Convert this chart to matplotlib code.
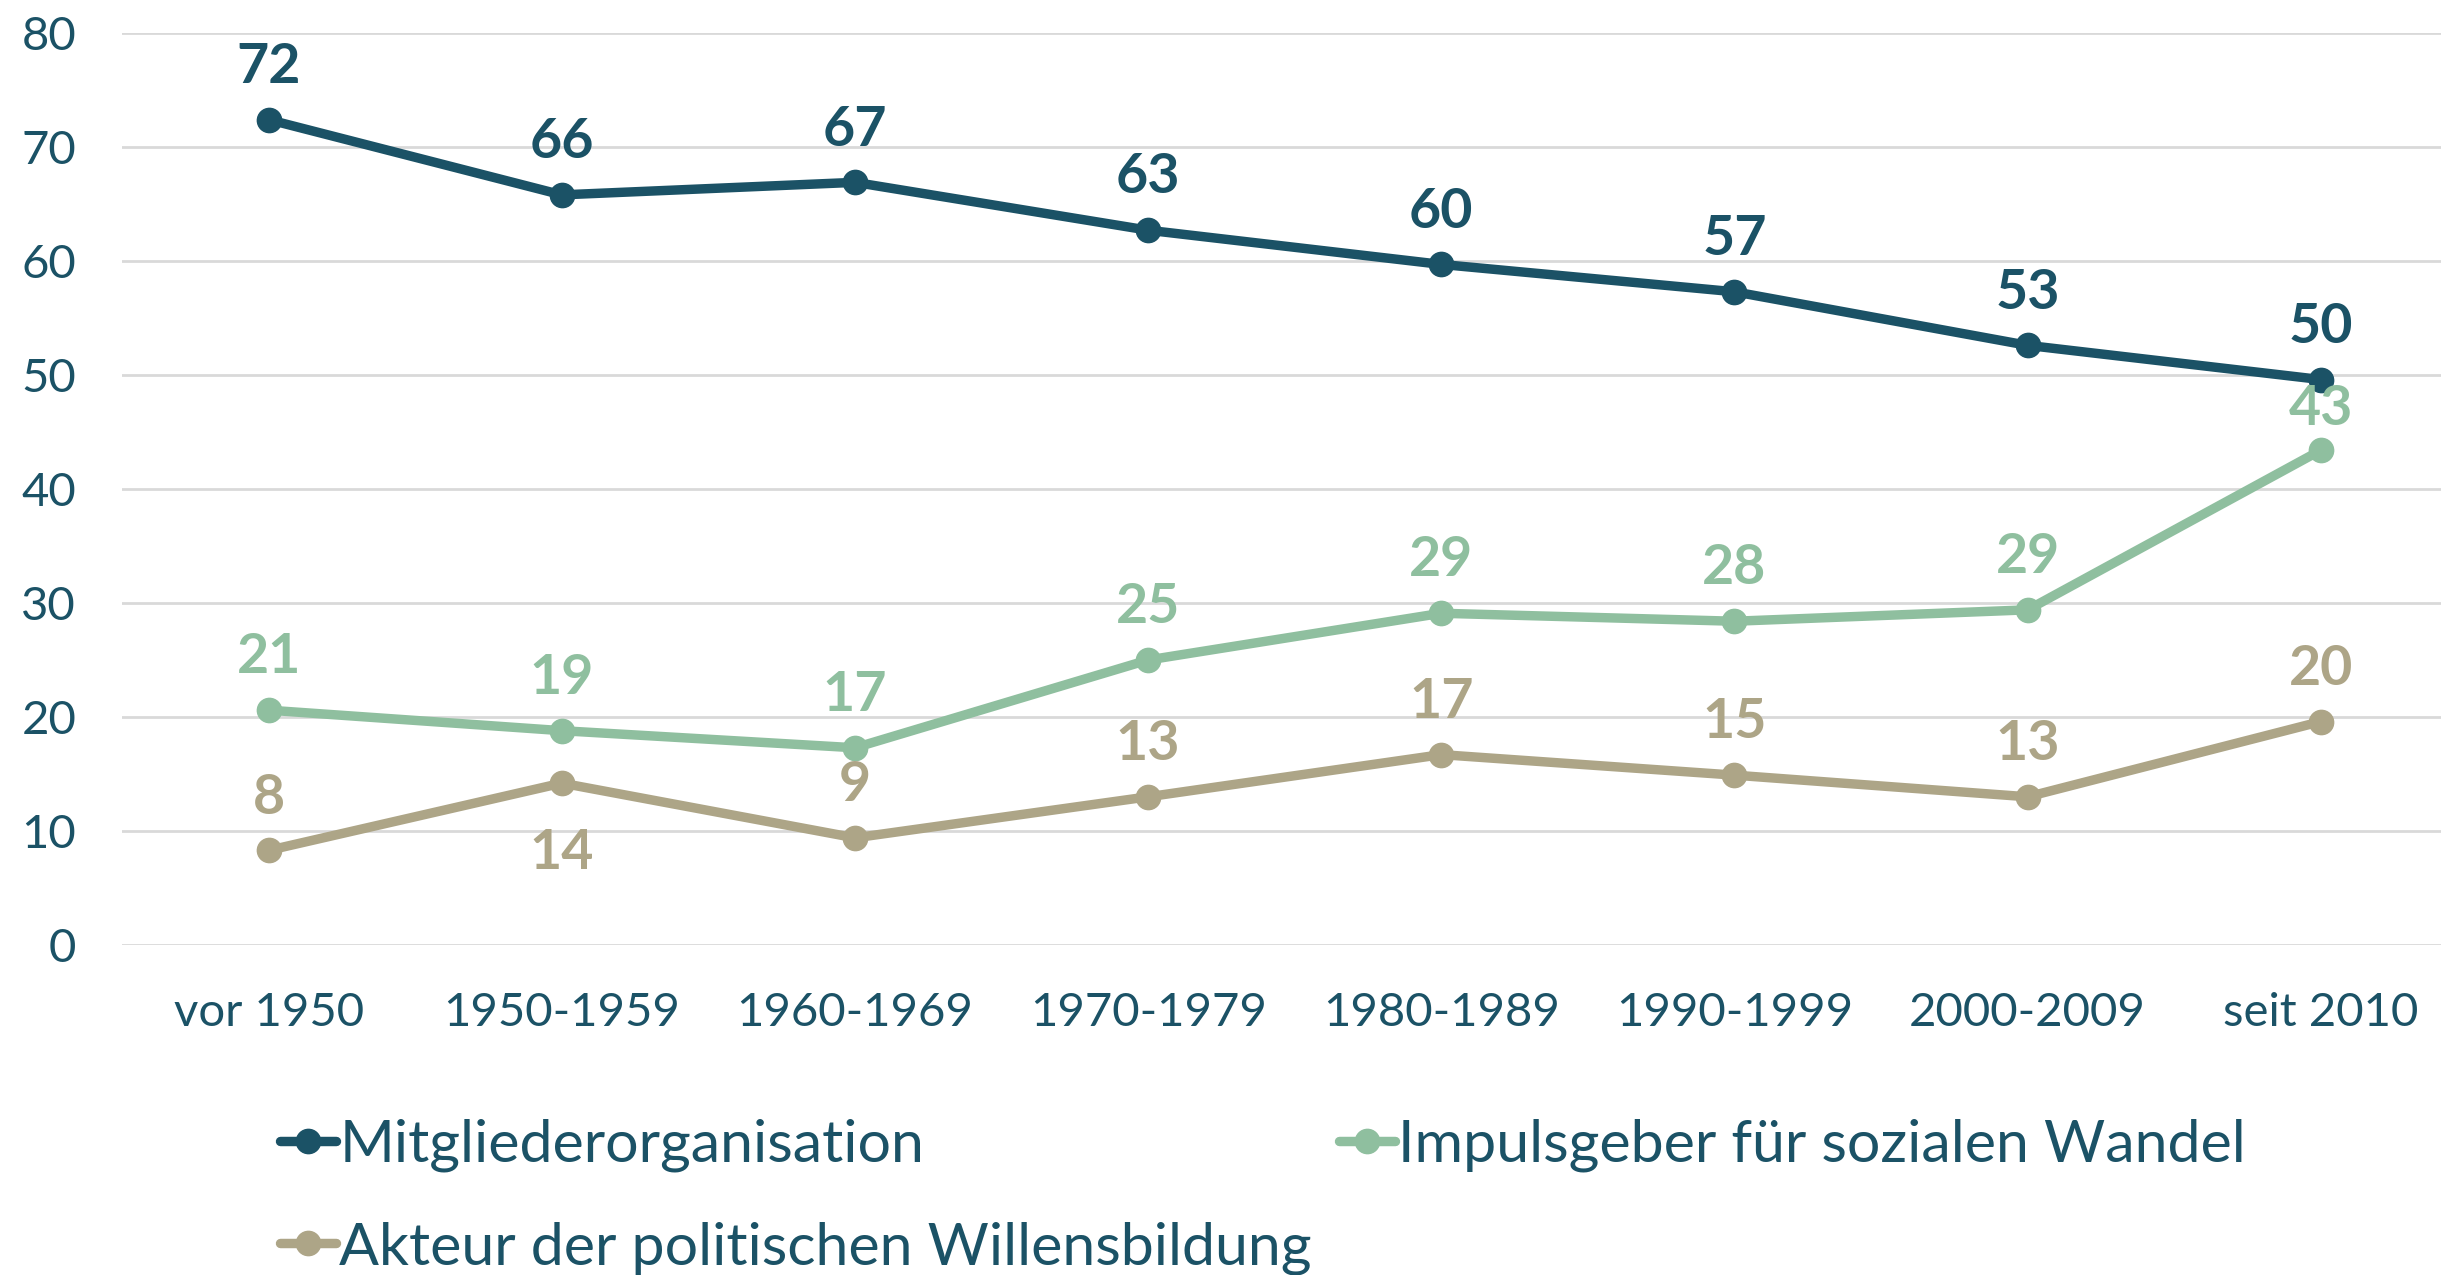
import matplotlib
matplotlib.use("Agg")
import matplotlib.pyplot as plt

categories = ["vor 1950", "1950-1959", "1960-1969", "1970-1979",
              "1980-1989", "1990-1999", "2000-2009", "seit 2010"]
mitglieder = [72.4, 65.8, 66.9, 62.7, 59.7, 57.3, 52.6, 49.6]
impuls = [20.6, 18.8, 17.3, 25.0, 29.1, 28.4, 29.4, 43.4]
akteur = [8.3, 14.2, 9.4, 13.0, 16.7, 14.9, 13.0, 19.6]
series_names = ["Mitgliederorganisation", "Impulsgeber für sozialen Wandel",
                "Akteur der politischen Willensbildung"]
yticks = [0, 10, 20, 30, 40, 50, 60, 70, 80]

C_DARK = "#1B5266"
C_GREEN = "#8FBF9F"
C_TAN = "#ADA587"
TEXT = "#1B5266"
FONT = ["Lato", "DejaVu Sans"]

plt.rcParams["font.family"] = FONT

fig = plt.figure(figsize=(24.41, 12.75), dpi=100)
ax = fig.add_axes([122 / 2441, 330 / 1275, 1 - 122 / 2441, (945 - 33) / 1275])

x = list(range(len(categories)))
series = [(mitglieder, C_DARK, series_names[0]),
          (impuls, C_GREEN, series_names[1]),
          (akteur, C_TAN, series_names[2])]
handles = {}
for vals, col, name in series:
    ln, = ax.plot(x, vals, color=col, lw=6.8, marker="o", ms=17.5,
                  solid_capstyle="round", zorder=3, label=name)
    handles[name] = ln

LBL = dict(textcoords="offset points", ha="center", va="center",
           fontsize=40, fontweight="bold")
for i, v in enumerate(mitglieder):
    ax.annotate(f"{v:.0f}", (i, v), xytext=(0, 38), color=C_DARK, **LBL)
for i, v in enumerate(impuls):
    dy = 30 if i == len(impuls) - 1 else 38
    ax.annotate(f"{v:.0f}", (i, v), xytext=(0, dy), color=C_GREEN, **LBL)
for i, v in enumerate(akteur):
    dy = -50 if i == 1 else 38
    ax.annotate(f"{v:.0f}", (i, v), xytext=(0, dy), color=C_TAN, **LBL)

ax.set_xlim(-0.5, 7.41)
ax.set_ylim(0, 80)
ax.set_yticks(yticks)
ax.set_xticks(x)
ax.set_xticklabels(categories)
ax.tick_params(axis="both", length=0, labelsize=34, labelcolor=TEXT)
ax.tick_params(axis="y", pad=33)
ax.tick_params(axis="x", pad=34)
ax.grid(axis="y", color="#D9D9D9", lw=2)
ax.set_axisbelow(True)
for s in ax.spines.values():
    s.set_visible(False)

leg_kw = dict(frameon=False, fontsize=42.6, handlelength=0.95, handletextpad=0.05,
              labelcolor=TEXT, borderpad=0, borderaxespad=0, labelspacing=0.82)
leg1 = fig.legend([handles[series_names[0]], handles[series_names[2]]],
                  [series_names[0], series_names[2]],
                  loc="upper left", bbox_to_anchor=(280 / 2441, 1 - 1119 / 1275), **leg_kw)
leg2 = fig.legend([handles[series_names[1]]], [series_names[1]],
                  loc="upper left", bbox_to_anchor=(1339 / 2441, 1 - 1119 / 1275), **leg_kw)
for lg in (leg1, leg2):
    for h in lg.legend_handles:
        h.set_markersize(17.5)
        h.set_linewidth(6.8)

fig.savefig("out.png", dpi=100)
